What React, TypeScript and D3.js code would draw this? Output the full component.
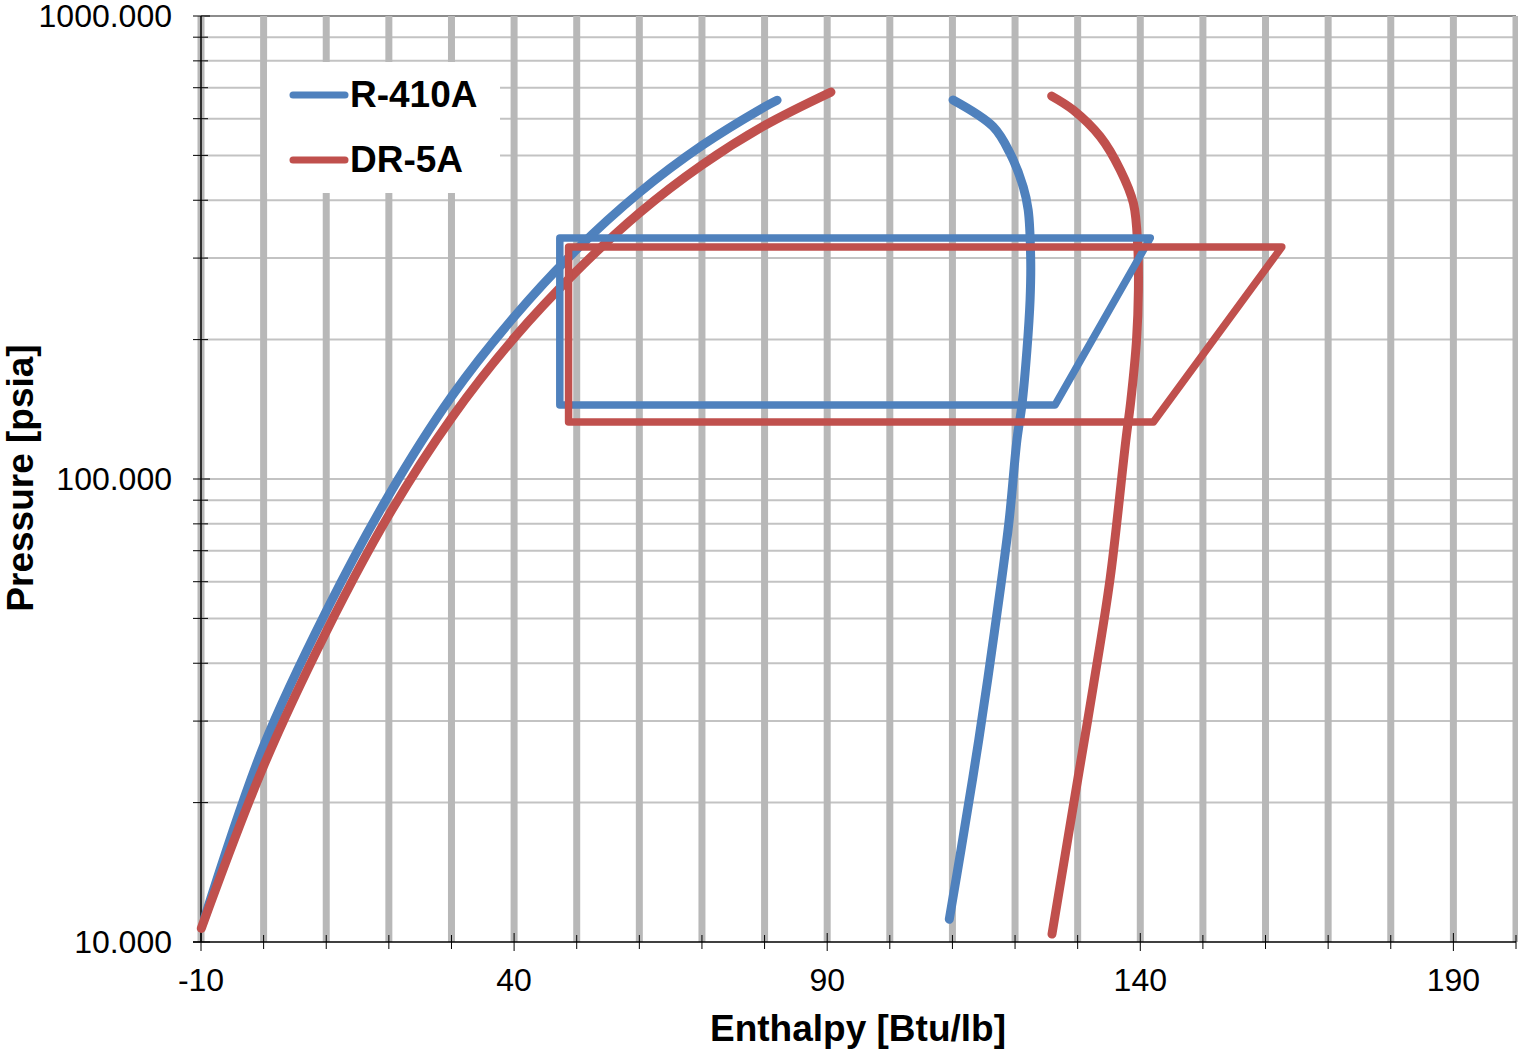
import * as React from "react";
import * as d3 from "d3";

// enthalpy [Btu/lb], pressure [psia]
const r410aLiquid = [
  [-9.4, 11.3], [0, 26.5], [10, 51.8], [20, 92.3], [30, 150.6], [40, 223.9],
  [50, 313.3], [60, 415.5], [70, 525], [80, 636.4], [82, 658],
];
const r410aVapor = [
  [110.1, 658.5], [116.5, 576.6], [119.2, 505.2], [121.3, 427.9],
  [122.1, 381], [122.5, 297.2], [122.4, 243.6], [121.9, 190], [121.1, 144.5],
  [120.3, 121.4], [119.0, 80.1], [116.7, 46.7], [114.2, 27.3], [111.4, 15.9], [109.5, 11.2],
];
const r410aCycle = [
  [47.3, 144.5], [47.3, 331.5], [141.6, 331.5], [126.4, 144.5], [47.3, 144.5],
];

const dr5aLiquid = [
  [-9.95, 10.7], [0, 24], [10, 46.8], [20, 83.6], [30, 135.4], [40, 201.6],
  [50, 281.3], [60, 375.4], [70, 476.7], [80, 580], [90.6, 685],
];
const dr5aVapor = [
  [125.85, 671.6], [129.3, 626.6], [133.6, 548.8], [136.8, 465], [138.9, 394],
  [139.6, 317], [139.7, 256], [139.4, 199.6], [138.5, 148.1], [137.7, 121.4],
  [135.2, 61.2], [132.5, 35.7], [129.6, 20.8], [125.9, 10.4],
];
const dr5aCycle = [
  [48.7, 132.8], [48.7, 316.9], [162.6, 316.9], [142.1, 132.8], [48.7, 132.8],
];

const xLabels = [-10, 40, 90, 140, 190];
const yLabels = [10, 100, 1000];

const series = [
  { name: "R-410A", color: "#4F81BD", liquid: r410aLiquid, vapor: r410aVapor, cycle: r410aCycle },
  { name: "DR-5A", color: "#C0504D", liquid: dr5aLiquid, vapor: dr5aVapor, cycle: dr5aCycle },
];

function drawChart(svgRef) {
  const width = 1518;
  const height = 1050;
  const left = 201, right = 1516, top = 16, bottom = 942;

  const x = d3.scaleLinear().domain([-10, 200]).range([left, right]);
  const y = d3.scaleLog().domain([10, 1000]).range([bottom, top]);

  const svg = d3.select(svgRef.current).attr("width", width).attr("height", height);
  svg.selectAll("*").remove();

  const font = "'Liberation Sans', Arial, sans-serif";

  // horizontal grid (log minor)
  const yGrid = [];
  [10, 100].forEach((d) => d3.range(1, 10).forEach((k) => yGrid.push(d * k)));
  yGrid.push(1000);
  svg.append("g")
    .selectAll("line")
    .data(yGrid.filter((v) => v > 10))
    .enter()
    .append("line")
    .attr("x1", left).attr("x2", right)
    .attr("y1", (d) => y(d)).attr("y2", (d) => y(d))
    .attr("stroke", (d) => (d === 1000 ? "#8c8c8c" : "#c3c3c3"))
    .attr("stroke-width", 2);

  // vertical grid
  const xGrid = d3.range(-10, 201, 10);
  svg.append("g")
    .selectAll("line")
    .data(xGrid)
    .enter()
    .append("line")
    .attr("x1", (d) => x(d)).attr("x2", (d) => x(d))
    .attr("y1", top).attr("y2", bottom)
    .attr("stroke", "#b8b8b8")
    .attr("stroke-width", 7);

  // axes
  svg.append("line")
    .attr("x1", left).attr("x2", left).attr("y1", top).attr("y2", bottom)
    .attr("stroke", "#000").attr("stroke-width", 1.5);
  svg.append("line")
    .attr("x1", left - 8).attr("x2", right).attr("y1", bottom).attr("y2", bottom)
    .attr("stroke", "#000").attr("stroke-width", 1.5);

  svg.append("g")
    .selectAll("line")
    .data(yGrid)
    .enter()
    .append("line")
    .attr("x1", left - 8).attr("x2", (d) => (yLabels.includes(d) ? left + 9 : left + 7))
    .attr("y1", (d) => y(d)).attr("y2", (d) => y(d))
    .attr("stroke", "#000").attr("stroke-width", 1);

  svg.append("g")
    .selectAll("line")
    .data(xGrid)
    .enter()
    .append("line")
    .attr("x1", (d) => x(d)).attr("x2", (d) => x(d))
    .attr("y1", (d) => (xLabels.includes(d) ? bottom - 9 : bottom - 7))
    .attr("y2", (d) => (xLabels.includes(d) ? bottom + 9 : bottom + 7))
    .attr("stroke", "#000").attr("stroke-width", 1);

  svg.append("g")
    .selectAll("text")
    .data(xLabels)
    .enter()
    .append("text")
    .text((d) => d)
    .attr("x", (d) => x(d))
    .attr("y", 991)
    .attr("text-anchor", "middle")
    .attr("font-family", font)
    .attr("font-size", 32)
    .attr("fill", "#000");

  svg.append("g")
    .selectAll("text")
    .data(yLabels)
    .enter()
    .append("text")
    .text((d) => d3.format(".3f")(d))
    .attr("x", 172)
    .attr("y", (d) => y(d))
    .attr("dy", "0.35em")
    .attr("text-anchor", "end")
    .attr("font-family", font)
    .attr("font-size", 32)
    .attr("fill", "#000");

  svg.append("text")
    .text("Enthalpy [Btu/lb]")
    .attr("x", 858).attr("y", 1041)
    .attr("text-anchor", "middle")
    .attr("font-family", font).attr("font-weight", "bold").attr("font-size", 37);

  svg.append("text")
    .text("Pressure [psia]")
    .attr("transform", "translate(33, 478) rotate(-90)")
    .attr("text-anchor", "middle")
    .attr("font-family", font).attr("font-weight", "bold").attr("font-size", 37);

  // series
  const smooth = d3.line()
    .x((d) => x(d[0]))
    .y((d) => y(d[1]))
    .curve(d3.curveCatmullRom.alpha(0.5));
  const poly = d3.line().x((d) => x(d[0])).y((d) => y(d[1]));

  const g = svg.append("g");
  series.forEach((s) => {
    [s.liquid, s.vapor].forEach((pts) => {
      g.append("path")
        .attr("d", smooth(pts))
        .attr("fill", "none")
        .attr("stroke", s.color)
        .attr("stroke-width", 9)
        .attr("stroke-linecap", "round");
    });
  });
  series.forEach((s) => {
    g.append("path")
      .attr("d", poly(s.cycle))
      .attr("fill", "none")
      .attr("stroke", s.color)
      .attr("stroke-width", 7.5)
      .attr("stroke-linecap", "round")
      .attr("stroke-linejoin", "round");
  });

  // legend
  const legend = svg.append("g");
  legend.append("rect")
    .attr("x", 267).attr("y", 62).attr("width", 233).attr("height", 131)
    .attr("fill", "#fff");
  series.forEach((s, i) => {
    const ly = 95 + i * 65;
    legend.append("line")
      .attr("x1", 293).attr("x2", 345).attr("y1", ly).attr("y2", ly)
      .attr("stroke", s.color).attr("stroke-width", 7).attr("stroke-linecap", "round");
    legend.append("text")
      .text(s.name)
      .attr("x", 350).attr("y", ly + 12)
      .attr("font-family", font).attr("font-weight", "bold").attr("font-size", 37);
  });
}

const App = () => {
  const svgRef = React.useRef(null);

  React.useEffect(() => {
    drawChart(svgRef);
  }, []);

  return (
    <div style={{ position: "absolute", left: 0, top: 0, background: "#fff" }}>
      <svg ref={svgRef} style={{ display: "block" }} />
    </div>
  );
};

export default App;
